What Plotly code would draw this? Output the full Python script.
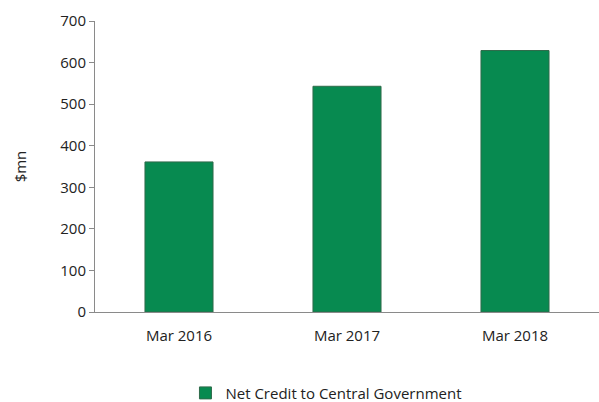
import plotly.graph_objects as go

categories = ["Mar 2016", "Mar 2017", "Mar 2018"]
values = [361, 543, 629]
series_name = "Net Credit to Central Government"
y_ticks = [0, 100, 200, 300, 400, 500, 600, 700]

fig = go.Figure()
fig.add_trace(go.Bar(
    x=categories, y=values, name=series_name,
    marker=dict(color="#078a50", line=dict(color="#2f6b4b", width=1)),
    width=0.405,
))

font = "Open Sans, Noto Sans, sans-serif"
fig.update_layout(
    width=599, height=402,
    margin=dict(l=95, r=0, t=21, b=90),
    plot_bgcolor="white", paper_bgcolor="white",
    font=dict(family=font, size=15, color="#222"),
    showlegend=True,
    legend=dict(orientation="h", xref="container", x=0.545, xanchor="center",
                yref="container", y=0.022, yanchor="middle",
                font=dict(size=15), itemwidth=30),
    bargap=0.6,
)
fig.update_xaxes(
    showline=True, linecolor="#8a8a8a", linewidth=1,
    ticks="", showgrid=False, tickfont=dict(size=15), ticklabelstandoff=10,
)
fig.update_yaxes(
    range=[0, 700], tickvals=y_ticks, showline=True, linecolor="#8a8a8a", linewidth=1,
    ticks="outside", ticklen=5, tickcolor="#8a8a8a", showgrid=False, zeroline=False,
    title=dict(text="$mn", standoff=30, font=dict(size=15)), tickfont=dict(size=15),
)
fig.write_html("out.html")
